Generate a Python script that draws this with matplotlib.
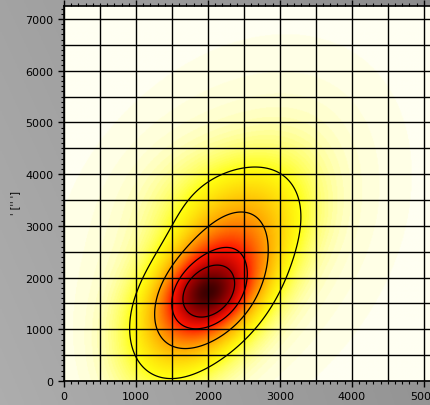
import numpy as np
import matplotlib
matplotlib.use("Agg")
import matplotlib.pyplot as plt
from matplotlib.colors import LinearSegmentedColormap
from matplotlib.ticker import MultipleLocator

# Gaussian mixture components (density shape)
comp_mx = [2000, 2030, 2150, 2300, 2300, 1400]
comp_my = [1700, 1750, 2050, 2800, 3300, 1000]
comp_sx = [230, 420, 650, 1300, 650, 480]
comp_sy = [300, 600, 1150, 2000, 700, 800]
comp_rho = [0.2, 0.35, 0.55, 0.3, 0.0, 0.1]
comp_w = [0.10, 0.28, 0.40, 0.22, 0.07, 0.05]

xlim = (0, 5100)
ylim = (0, 7260)
contour_levels = [0.075, 0.19, 0.36, 0.56]

fig = plt.figure(figsize=(4.31, 4.06), dpi=100)
# gray gradient background
bg = fig.add_axes([0, 0, 1, 1], zorder=-10)
gx, gy = np.meshgrid(np.linspace(0, 1, 200), np.linspace(0, 1, 200))
grad = 0.64 - 0.06 * gx + 0.04 * (1 - gy) * (1 - gx) - 0.03 * gy * gx
bg.imshow(np.dstack([grad, grad, grad]), extent=[0, 1, 0, 1], aspect='auto', origin='lower')
bg.set_axis_off()

ax = fig.add_axes([64 / 431, 24 / 406, 367 / 431, 375.5 / 406])

xs = np.linspace(xlim[0], xlim[1], 400)
ys = np.linspace(ylim[0], ylim[1], 500)
X, Y = np.meshgrid(xs, ys)
Z = np.zeros_like(X)
for mx, my, sx, sy, r, w in zip(comp_mx, comp_my, comp_sx, comp_sy, comp_rho, comp_w):
    dx = (X - mx) / sx
    dy = (Y - my) / sy
    q = (dx ** 2 - 2 * r * dx * dy + dy ** 2) / (1 - r ** 2)
    Z += w * np.exp(-0.5 * q) / (sx * sy * np.sqrt(1 - r ** 2))
Z = Z / Z.max()

cmap = LinearSegmentedColormap.from_list(
    "kde", [(0.0, "#fffff2"), (0.012, "#ffffd0"), (0.03, "#ffff90"), (0.075, "#ffff10"),
            (0.19, "#ffa500"), (0.36, "#ff1500"), (0.56, "#b00000"), (1.0, "#3c0000")])
ax.imshow(Z, extent=[xlim[0], xlim[1], ylim[0], ylim[1]], origin='lower',
          cmap=cmap, vmin=0, vmax=1.0, aspect='auto', interpolation='bilinear')
ax.contour(X, Y, Z, levels=contour_levels, colors='black', linewidths=0.9)

for gxv in np.arange(0, 5100, 500):
    ax.axvline(gxv, color='black', lw=1.0, zorder=3)
for gyv in np.arange(0, 7260, 500):
    ax.axhline(gyv, color='black', lw=1.0, zorder=3)

ax.set_xlim(*xlim)
ax.set_ylim(*ylim)
ax.xaxis.set_major_locator(MultipleLocator(1000))
ax.xaxis.set_minor_locator(MultipleLocator(100))
ax.yaxis.set_major_locator(MultipleLocator(1000))
ax.yaxis.set_minor_locator(MultipleLocator(100))
ax.tick_params(which='both', direction='out', top=True, right=True, labelsize=8,
               color='black', colors='black')
ax.tick_params(which='major', length=4, width=1)
ax.tick_params(which='minor', length=2, width=0.8)
for s in ax.spines.values():
    s.set_linewidth(1.2)

fig.text(15 / 431, 1 - 203 / 406, "' ['' ']", rotation=90, fontsize=7,
         ha='center', va='center', color='black')

fig.savefig("out.png", dpi=100)
